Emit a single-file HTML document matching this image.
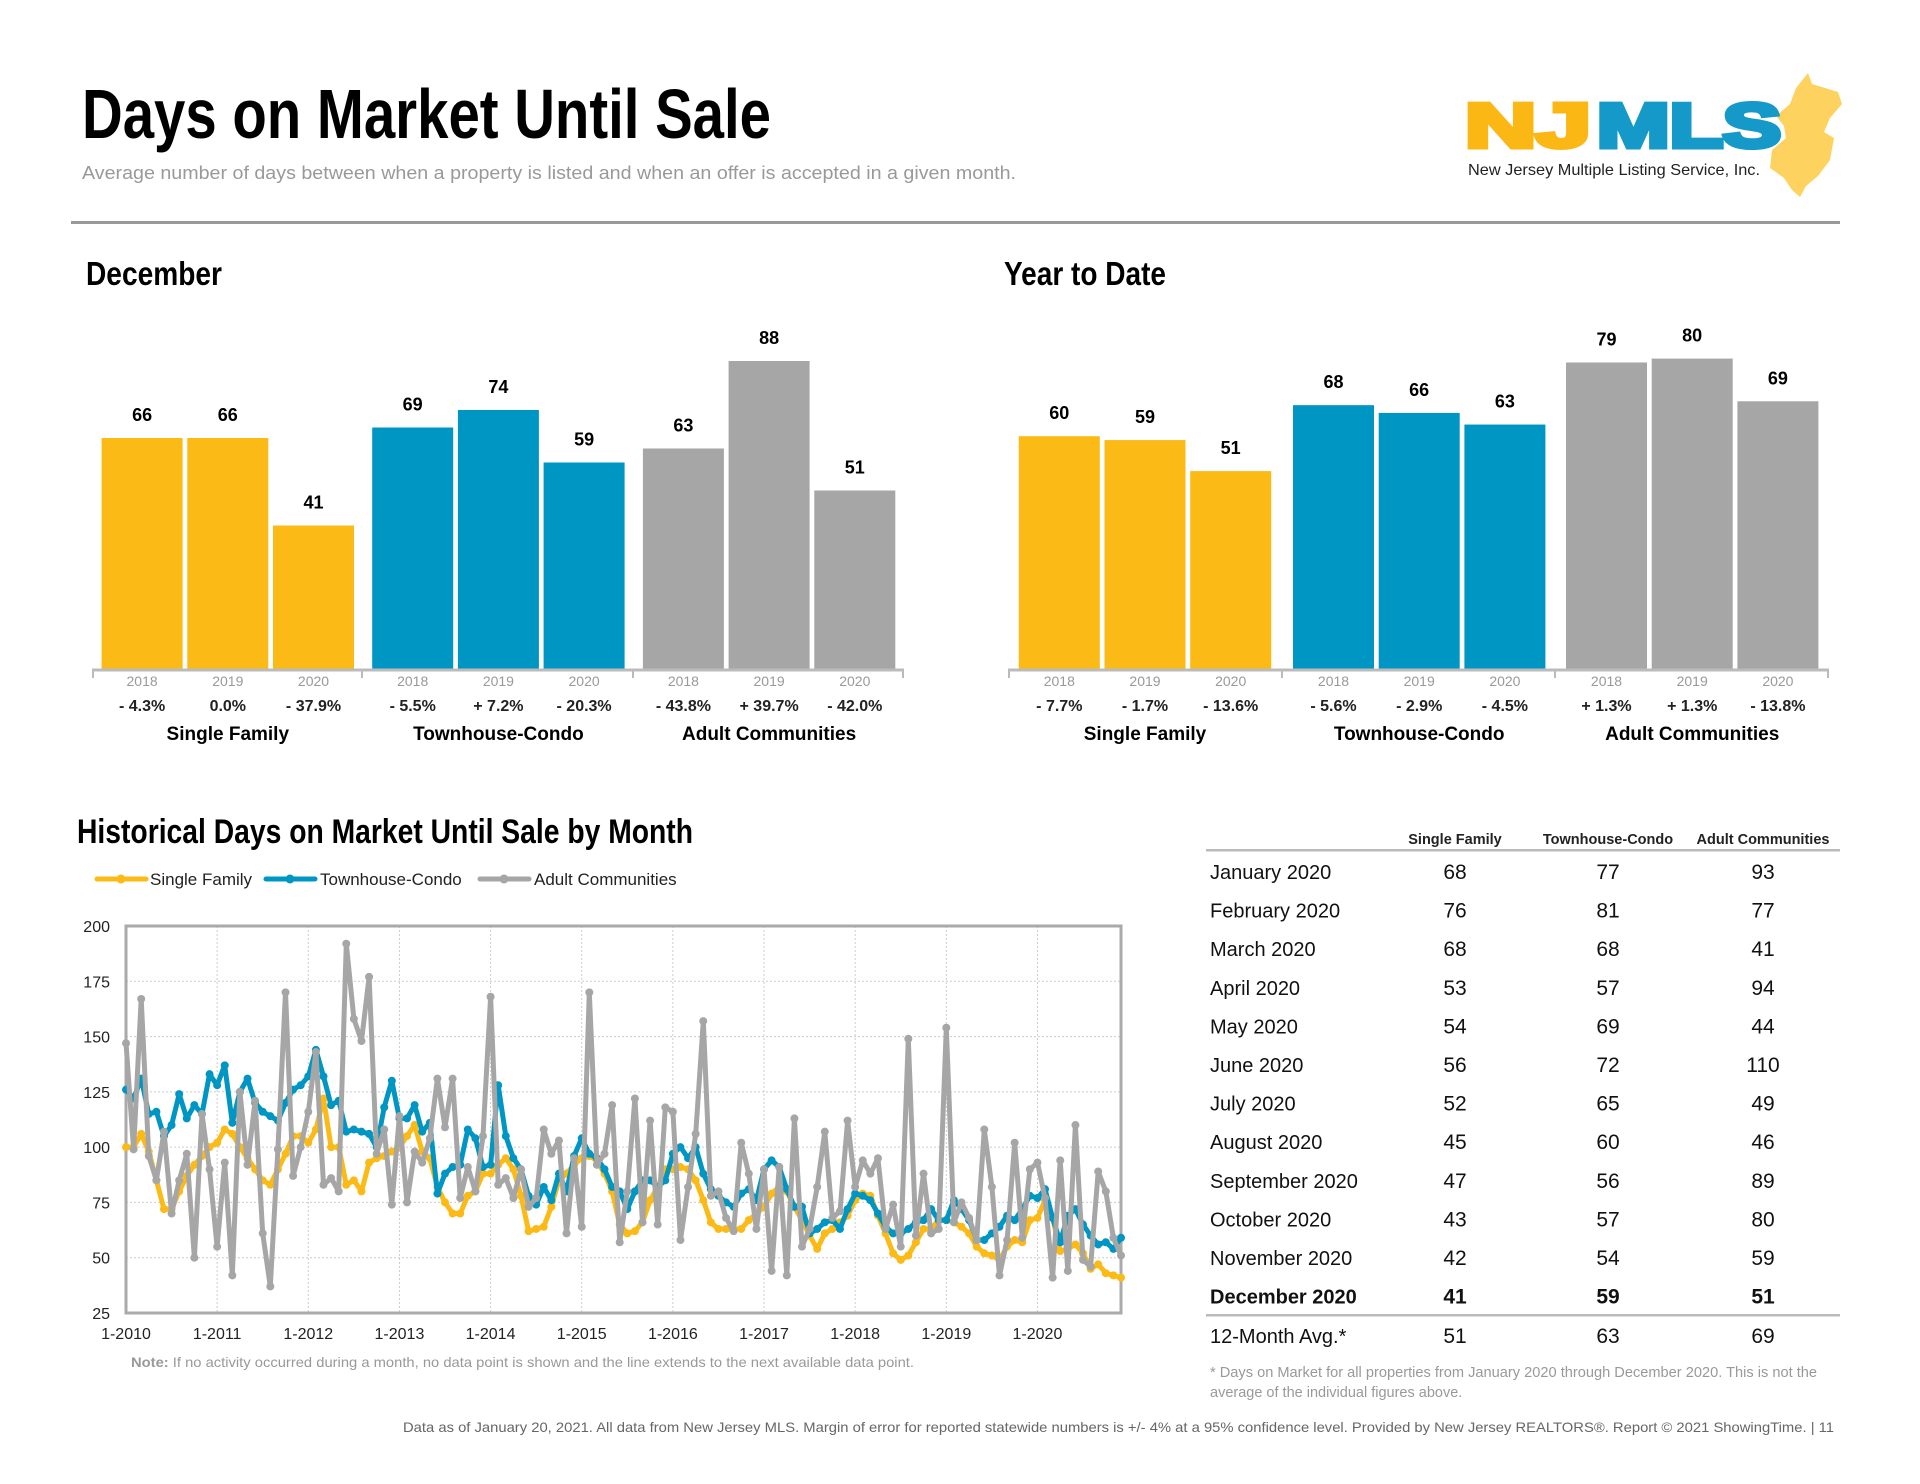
<!DOCTYPE html>
<html><head><meta charset="utf-8"><style>
html,body{margin:0;padding:0;background:#fff;}
svg{display:block;font-family:"Liberation Sans",sans-serif;}
.n{font-family:"Liberation Sans Narrow","Liberation Sans",sans-serif;font-weight:bold;}
</style></head><body>
<svg id="page" width="1920" height="1484" viewBox="0 0 1920 1484" xmlns="http://www.w3.org/2000/svg">
<text class="n" x="82" y="138" font-size="70" textLength="689" lengthAdjust="spacingAndGlyphs" fill="#000">Days on Market Until Sale</text>
<text x="82" y="179" font-size="18" fill="#999" textLength="934" lengthAdjust="spacingAndGlyphs">Average number of days between when a property is listed and when an offer is accepted in a given month.</text>
<g>
<path fill="#FDD25E" d="M1808,73 L1812,84 L1838,92 L1842,104 L1830,118 L1824,132 L1834,138 L1830,160 L1818,176 L1806,186 L1800,197 L1792,190 L1784,178 L1770,168 L1772,150 L1786,138 L1784,126 L1776,116 L1790,104 L1796,88 Z"/>
<text x="1465" y="147" font-size="62" font-weight="bold" fill="#FBB714" stroke="#FBB714" stroke-width="5" textLength="126" lengthAdjust="spacingAndGlyphs">NJ</text>
<text x="1597" y="147" font-size="62" font-weight="bold" fill="#1499C8" stroke="#1499C8" stroke-width="5" textLength="184" lengthAdjust="spacingAndGlyphs">MLS</text>
<text x="1468" y="175" font-size="16" fill="#222" textLength="292" lengthAdjust="spacingAndGlyphs">New Jersey Multiple Listing Service, Inc.</text>
</g>
<rect x="71" y="221" width="1769" height="3" fill="#999"/>
<text class="n" x="86" y="285" font-size="33" textLength="136" lengthAdjust="spacingAndGlyphs">December</text>
<text class="n" x="1004" y="285" font-size="33" textLength="162" lengthAdjust="spacingAndGlyphs">Year to Date</text>
<g id="dec"></g>
<g id="ytd"></g>
<text class="n" x="77" y="843" font-size="34" textLength="616" lengthAdjust="spacingAndGlyphs">Historical Days on Market Until Sale by Month</text>
<g id="legend"></g>
<g id="line"></g>
<text x="131" y="1367" font-size="14" fill="#999" textLength="783" lengthAdjust="spacingAndGlyphs"><tspan font-weight="bold">Note:</tspan> If no activity occurred during a month, no data point is shown and the line extends to the next available data point.</text>
<g id="table"></g>
<text x="1210" y="1377" font-size="14.5" fill="#999" textLength="607" lengthAdjust="spacingAndGlyphs">* Days on Market for all properties from January 2020 through December 2020. This is not the</text>
<text x="1210" y="1397" font-size="14.5" fill="#999">average of the individual figures above.</text>
<text x="403" y="1432" font-size="14" fill="#666" textLength="1431" lengthAdjust="spacingAndGlyphs">Data as of January 20, 2021. All data from New Jersey MLS. Margin of error for reported statewide numbers is +/- 4% at a 95% confidence level. Provided by New Jersey REALTORS®. Report © 2021 ShowingTime.  |  11</text>
</svg>
<script>
const NS="http://www.w3.org/2000/svg";
const groups=["Single Family","Townhouse-Condo","Adult Communities"];
const years=["2018","2019","2020"];
const colors=["#FBBA16","#0096C4","#A6A6A6"];
const decValues=[[66,66,41],[69,74,59],[63,88,51]];
const decPct=[["- 4.3%","0.0%","- 37.9%"],["- 5.5%","+ 7.2%","- 20.3%"],["- 43.8%","+ 39.7%","- 42.0%"]];
const ytdValues=[[60,59,51],[68,66,63],[79,80,69]];
const ytdPct=[["- 7.7%","- 1.7%","- 13.6%"],["- 5.6%","- 2.9%","- 4.5%"],["+ 1.3%","+ 1.3%","- 13.8%"]];
const months=["January 2020","February 2020","March 2020","April 2020","May 2020","June 2020","July 2020","August 2020","September 2020","October 2020","November 2020","December 2020"];
const sf=[100,100,106,98,85,72,72,80,87,92,96,100, 102,108,106,100,95,90,85,83,90,97,105,105, 102,108,122,100,100,83,85,80,93,95,96,98, 100,105,110,98,95,82,75,70,70,78,80,88, 88,92,95,90,78,62,63,64,73,85,88,92, 95,96,94,88,80,65,61,62,66,76,82,90, 90,91,90,85,76,66,63,63,63,63,67,70, 73,79,82,80,73,67,60,54,61,63,66,69, 76,79,78,69,61,52,49,51,57,63,63,67, 67,66,64,61,55,52,51,49,55,58,57,67, 68,76,68,53,54,56,52,45,47,43,42,41];
const tc=[126,122,131,115,116,105,110,124,113,119,115,133, 128,137,111,125,131,120,116,114,112,120,126,128, 132,144,132,119,121,107,108,107,106,100,118,130, 113,113,119,107,111,79,88,91,92,108,104,91, 92,128,105,95,90,78,74,82,76,88,80,96, 104,97,95,90,82,80,72,80,85,85,82,85, 97,100,95,100,88,81,78,75,73,79,81,76, 90,94,91,81,73,73,61,63,66,67,63,72, 79,78,76,70,64,61,61,63,66,67,72,67, 67,76,72,67,58,58,61,64,69,67,72,78, 77,81,68,57,69,72,65,60,56,57,54,59];
const ac=[147,99,167,96,85,107,70,85,97,50,115,90, 55,93,42,125,92,121,61,37,99,170,87,100, 116,143,83,86,80,192,158,148,177,97,108,74, 114,75,98,93,104,131,109,131,77,91,80,105, 168,83,86,77,90,73,77,108,97,103,61,95, 64,170,92,97,119,57,80,122,66,112,65,118, 116,58,82,106,157,78,80,68,62,102,88,63, 90,44,91,42,113,55,63,82,107,68,71,112, 82,94,88,95,63,74,55,149,60,88,61,63, 154,66,75,68,58,108,82,42,58,102,59,90, 93,77,41,94,44,110,49,46,89,80,59,51];
const avg=[51,63,69];
const yTicks=[25,50,75,100,125,150,175,200];
const xTickLabels=["1-2010","1-2011","1-2012","1-2013","1-2014","1-2015","1-2016","1-2017","1-2018","1-2019","1-2020"];

function mk(tag,attrs,parent,txt){const e=document.createElementNS(NS,tag);for(const k in attrs)e.setAttribute(k,attrs[k]);if(txt!==undefined)e.textContent=txt;parent.appendChild(e);return e;}

function barChart(g,vals,pcts,x0s,scale,axL,axR,ticks,nm){
  const base=669,bw=81,step=85.7;
  for(let gi=0;gi<3;gi++){
    for(let b=0;b<3;b++){
      const x=x0s[gi]+b*step,h=vals[gi][b]*scale;
      const r=mk("rect",{x:x,y:base-h,width:bw,height:h,fill:colors[gi]},g);
      
      
      const t=mk("text",{x:x+bw/2,y:base-h-17,"text-anchor":"middle","font-size":18,"font-weight":"bold"},g,vals[gi][b]);
      
      
      const yl=mk("text",{x:x+bw/2,y:686,"text-anchor":"middle","font-size":14,fill:"#999"},g,years[b]);
      
      
      const p=mk("text",{x:x+bw/2,y:711,"text-anchor":"middle","font-size":16,"font-weight":"bold",fill:"#222"},g,pcts[gi][b]);
      
      
    }
    const gl=mk("text",{x:x0s[gi]+step+bw/2,y:740,"text-anchor":"middle","font-size":19,"font-weight":"bold"},g,groups[gi]);
    
    
  }
  const ax=mk("line",{x1:axL,x2:axR,y1:670,y2:670,stroke:"#bbb","stroke-width":3},g);
  
  
  ticks.forEach(tx=>{const l=mk("line",{x1:tx,x2:tx,y1:669,y2:678,stroke:"#bbb","stroke-width":2},g);
    
    });
}
barChart(document.getElementById("dec"),decValues,decPct,[101.6,372.2,642.9],3.5,92,904,[93,362,633,903],"december");
barChart(document.getElementById("ytd"),ytdValues,ytdPct,[1018.8,1293,1566],3.88,1008,1829,[1009,1282,1555,1828],"ytd");

const lg=document.getElementById("legend");
[[97,150],[266,320],[480,534]].forEach((p,i)=>{
  const l=mk("line",{x1:p[0],x2:p[0]+49,y1:879,y2:879,stroke:colors[i],"stroke-width":5,"stroke-linecap":"round"},lg);
  
  
  const c=mk("circle",{cx:p[0]+24,cy:879,r:4.5,fill:colors[i]},lg);
  
  
  const t=mk("text",{x:p[1],y:885,"font-size":17,fill:"#222"},lg,groups[i]);
  
  
});

const L=126,R=1121,T=926,B=1313;
const xs=i=>L+i*(R-L)/131;
const ys=v=>B-(v-25)*(B-T)/175;
const lc=document.getElementById("line");
yTicks.forEach(v=>{
  if(v>25&&v<200){const gl=mk("line",{x1:L,x2:R,y1:ys(v),y2:ys(v),stroke:"#ccc","stroke-width":1,"stroke-dasharray":"2,2"},lc);
  
  }
  const t=mk("text",{x:110,y:ys(v)+6,"text-anchor":"end","font-size":16,fill:"#222"},lc,v);
  
  
});
xTickLabels.forEach((s,i)=>{
  const x=xs(i*12);
  if(i>0){const gl=mk("line",{x1:x,x2:x,y1:T,y2:B,stroke:"#ccc","stroke-width":1,"stroke-dasharray":"2,2"},lc);
  
  }
  const t=mk("text",{x:x,y:1339,"text-anchor":"middle","font-size":16,fill:"#222"},lc,s);
  
  
});
const fr=mk("rect",{x:L,y:T,width:R-L,height:B-T,fill:"none",stroke:"#aaa","stroke-width":3},lc);


[sf,tc,ac].forEach((arr,si)=>{
  const d=arr.map((v,i)=>(i?"L":"M")+xs(i).toFixed(1)+","+ys(v).toFixed(1)).join(" ");
  const p=mk("path",{d:d,fill:"none",stroke:colors[si],"stroke-width":5,"stroke-linejoin":"round"},lc);
  
  
  arr.forEach((v,i)=>{const c=mk("circle",{cx:xs(i),cy:ys(v),r:4,fill:colors[si]},lc);
    
    });
});

const tb=document.getElementById("table");
const cx=[1455,1608,1763];
groups.forEach((g,i)=>{const t=mk("text",{x:cx[i],y:844,"text-anchor":"middle","font-size":14.5,"font-weight":"bold",fill:"#222"},tb,g);
  
  });
const h1=mk("rect",{x:1206,y:849,width:634,height:2.5,fill:"#bbb"},tb);


const cols=[sf.slice(120),tc.slice(120),ac.slice(120)];
months.forEach((m,r)=>{
  const y=879+r*38.6, bold=r===11?"bold":"normal";
  const t=mk("text",{x:1210,y:y,"font-size":20,"font-weight":bold,fill:"#111"},tb,m);
  
  
  cols.forEach((c,ci)=>{const v=mk("text",{x:cx[ci],y:y,"text-anchor":"middle","font-size":21,"font-weight":bold,fill:"#111"},tb,c[r]);
    
    });
});
const h2=mk("rect",{x:1206,y:1314,width:634,height:2.5,fill:"#bbb"},tb);


const at=mk("text",{x:1210,y:1343,"font-size":20,fill:"#111"},tb,"12-Month Avg.*");


avg.forEach((v,ci)=>{const e=mk("text",{x:cx[ci],y:1343,"text-anchor":"middle","font-size":21,fill:"#111"},tb,v);
  
  });
</script>
</body></html>
